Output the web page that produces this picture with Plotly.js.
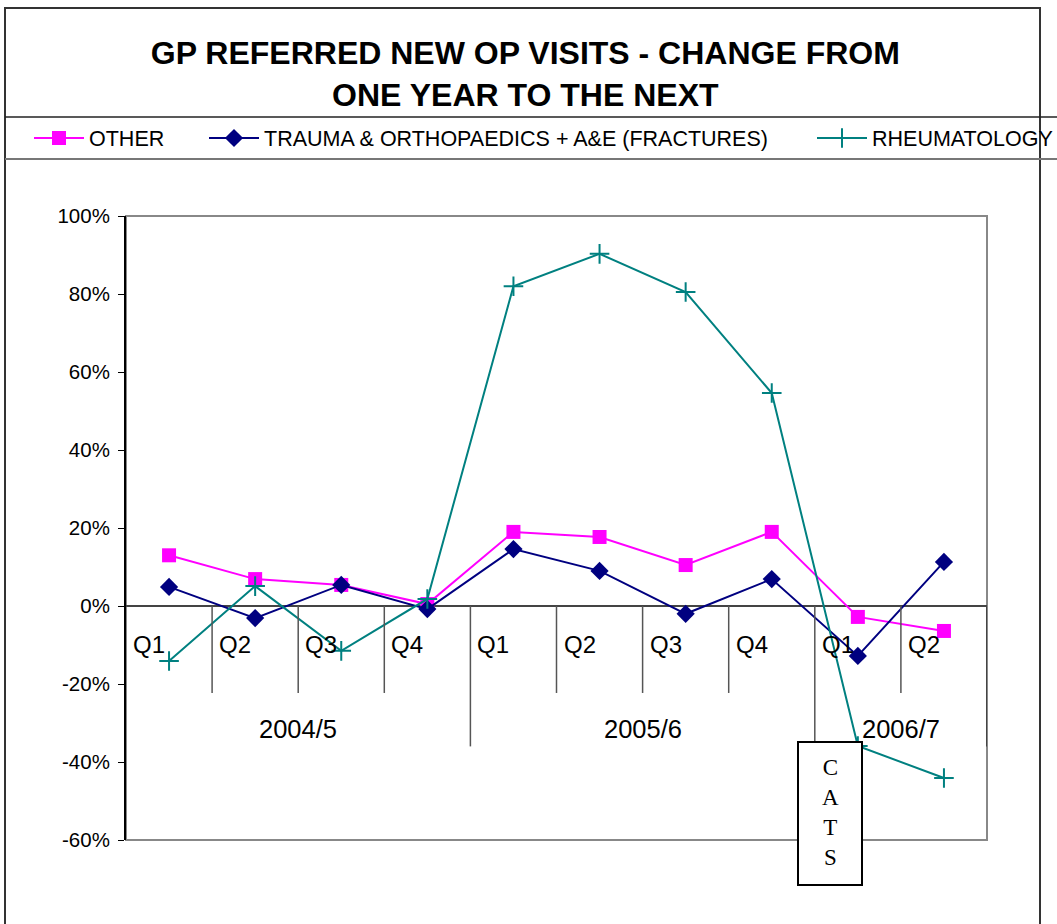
<!DOCTYPE html>
<html>
<head>
<meta charset="utf-8">
<script src="https://cdn.plot.ly/plotly-3.0.1.min.js"></script>
<style>
  body { margin: 0; background: #fff; }
  #graph { width: 1057px; height: 924px; }
</style>
</head>
<body>
<div id="graph"></div>
<script>
// data (year on year % change)
var quarters = ['Q1', 'Q2', 'Q3', 'Q4', 'Q1', 'Q2', 'Q3', 'Q4', 'Q1', 'Q2'];
var yearOf = ['2004/5', '2004/5', '2004/5', '2004/5', '2005/6', '2005/6', '2005/6', '2005/6', '2006/7', '2006/7'];
var other = [13, 6.9, 5.4, 0.5, 19, 17.7, 10.5, 19, -2.8, -6.4];
var trauma = [4.9, -3.1, 5.4, -0.8, 14.6, 9, -2, 6.9, -12.8, 11.3];
var rheum = [-14.1, 5.1, -11.5, 1.8, 82, 90.3, 80.5, 54.6, -35.9, -44.1];
var yTicks = [-60, -40, -20, 0, 20, 40, 60, 80, 100];
var yTickText = ['-60%', '-40%', '-20%', '0%', '20%', '40%', '60%', '80%', '100%'];

var idx = quarters.map(function(q, i) { return i; });

// pixel helpers for the plot box (l=126, r=987, t=216, b=840)
function px(x) { return (x - 126) / 861; }
function py(y) { return (840 - y) / 624; }

var trace1 = {
    x: idx, y: other, mode: 'lines+markers', name: 'OTHER',
    line: {color: '#FF00FF', width: 2},
    marker: {symbol: 'square', size: 14, color: '#FF00FF'},
    legend: 'legend'
};
var trace2 = {
    x: idx, y: trauma, mode: 'lines+markers', name: 'TRAUMA & ORTHOPAEDICS + A&E (FRACTURES)',
    line: {color: '#000080', width: 2},
    marker: {symbol: 'diamond', size: 14, color: '#000080'},
    legend: 'legend2'
};
var trace3 = {
    x: idx, y: rheum, mode: 'lines+markers', name: 'RHEUMATOLOGY',
    line: {color: '#008080', width: 2},
    marker: {symbol: 'cross-thin', size: 14, color: '#008080', line: {color: '#008080', width: 2}},
    legend: 'legend3'
};

var shapes = [];
var annotations = [];

// quarter labels + short dividers
quarters.forEach(function(q, i) {
    annotations.push({
        x: i - 0.5, xref: 'x', xanchor: 'left', xshift: 5,
        y: py(644), yref: 'paper', yanchor: 'middle',
        text: q, showarrow: false,
        font: {family: 'Liberation Sans, Arial', size: 24, color: '#000'}
    });
    if (i > 0) {
        var newYear = yearOf[i] !== yearOf[i - 1];
        shapes.push({
            type: 'line', xref: 'x', yref: 'y',
            x0: i - 0.5, x1: i - 0.5, y0: 0, y1: newYear ? -36 : -22.3,
            line: {color: '#555', width: 1.5}
        });
    }
});
// right end divider
shapes.push({type: 'line', xref: 'x', yref: 'y', x0: idx.length - 0.5, x1: idx.length - 0.5,
    y0: 0, y1: -36, line: {color: '#444', width: 2}});

// year group labels
var groups = [];
yearOf.forEach(function(yr, i) {
    if (!groups.length || groups[groups.length - 1].name !== yr) groups.push({name: yr, first: i, last: i});
    else groups[groups.length - 1].last = i;
});
groups.forEach(function(g) {
    annotations.push({
        x: (g.first + g.last) / 2, xref: 'x', xanchor: 'center',
        y: py(729), yref: 'paper', yanchor: 'middle',
        text: g.name, showarrow: false,
        font: {family: 'Liberation Sans, Arial', size: 25.5, color: '#000'}
    });
});

// plot border, outer frame, title/legend rules
shapes.push({type: 'rect', xref: 'paper', yref: 'paper', x0: 0, x1: 1, y0: 0, y1: 1,
    line: {color: '#888', width: 2}, layer: 'below'});
shapes.push({type: 'rect', xref: 'paper', yref: 'paper', x0: px(5), x1: px(1040), y0: py(935), y1: py(8),
    line: {color: '#333', width: 2}});
shapes.push({type: 'line', xref: 'paper', yref: 'paper', x0: px(5), x1: px(1060), y0: py(117), y1: py(117),
    line: {color: '#222', width: 1.5}});
shapes.push({type: 'line', xref: 'paper', yref: 'paper', x0: px(5), x1: px(1060), y0: py(159), y1: py(159),
    line: {color: '#777', width: 2}});

// CATS box
shapes.push({type: 'rect', xref: 'paper', yref: 'paper', x0: px(798), x1: px(862), y0: py(885), y1: py(742),
    fillcolor: '#fff', line: {color: '#000', width: 2}, layer: 'above'});
annotations.push({
    x: px(830), xref: 'paper', xanchor: 'center',
    y: py(812), yref: 'paper', yanchor: 'middle',
    text: 'C<br>A<br>T<br>S', showarrow: false,
    font: {family: 'Liberation Serif, Times New Roman', size: 23, color: '#000'}
});

var legendFont = {family: 'Liberation Sans, Arial', size: 21.5, color: '#000'};
function legendAt(x) {
    return {orientation: 'h', x: x, xanchor: 'left', y: py(138), yanchor: 'middle',
        itemwidth: 50, bgcolor: 'rgba(0,0,0,0)', font: legendFont};
}

var layout = {
    width: 1057, height: 924,
    margin: {l: 126, r: 70, t: 216, b: 84, autoexpand: false},
    paper_bgcolor: '#fff', plot_bgcolor: '#fff',
    title: {
        text: '<b>GP REFERRED NEW OP VISITS - CHANGE FROM<br>ONE YEAR TO THE NEXT</b>',
        font: {family: 'Liberation Sans, Arial', size: 32, color: '#000'},
        x: 0.497, xanchor: 'center', y: 1 - 64 / 924, yanchor: 'middle'
    },
    showlegend: true,
    legend: legendAt(px(29)),
    legend2: legendAt(px(204)),
    legend3: legendAt(px(812)),
    xaxis: {
        range: [-0.5, idx.length - 0.5],
        showgrid: false, zeroline: false, showline: false,
        showticklabels: false, ticks: ''
    },
    yaxis: {
        range: [-60, 100], tickmode: 'array', tickvals: yTicks, ticktext: yTickText,
        showgrid: false,
        zeroline: true, zerolinecolor: '#444', zerolinewidth: 1.5,
        showline: true, linecolor: '#000', linewidth: 2,
        ticks: 'outside', ticklen: 6, tickcolor: '#000', ticklabelstandoff: 4,
        tickfont: {family: 'Liberation Sans, Arial', size: 20.5, color: '#000'}
    },
    shapes: shapes,
    annotations: annotations
};

Plotly.newPlot('graph', [trace1, trace2, trace3], layout, {displayModeBar: false});
</script>
</body>
</html>
